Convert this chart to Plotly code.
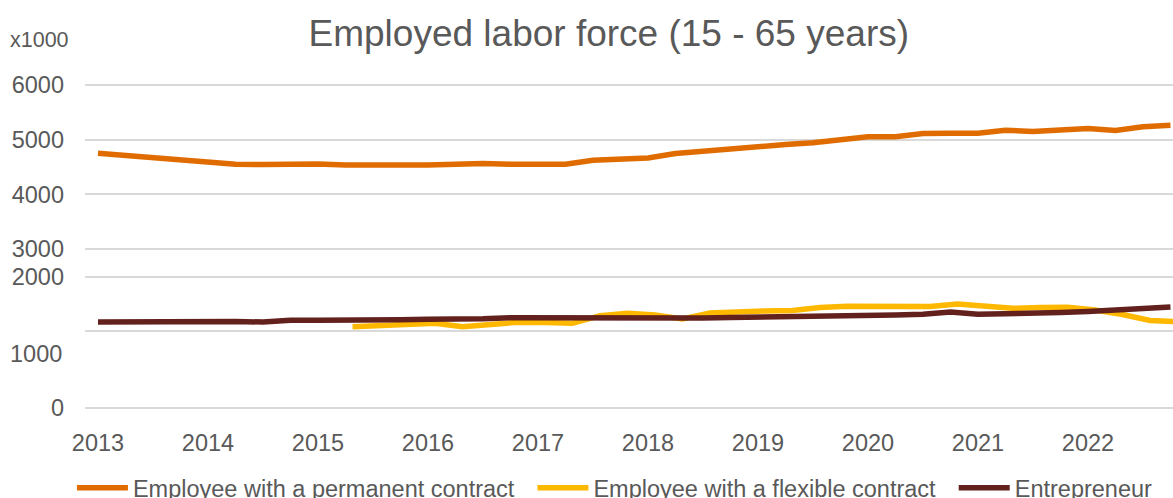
import plotly.graph_objects as go

# Quarterly periods 2013 Q1 .. 2022 Q4 (x = year + (quarter-1)/4)
years = list(range(2013, 2023))
quarters = [y + q / 4 for y in years for q in range(4)]

# values x1000
permanent = [4750, 4712, 4670, 4618, 4573, 4551, 4545, 4554, 4554, 4536,
             4530, 4530, 4536, 4551, 4565, 4551, 4545, 4551, 4622, 4642,
             4664, 4746, 4792, 4838, 4874, 4911, 4944, 4997, 5052, 5054,
             5112, 5116, 5116, 5172, 5149, 5176, 5204, 5167, 5235, 5264]

# flexible contract series starts in 2015 Q2
flexible_start = 9
flexible = [1578, 1600, 1619, 1641, 1578, 1619, 1659, 1655, 1641, 1780,
            1824, 1792, 1719, 1829, 1856, 1866, 1875, 1930, 1952, 1948,
            1939, 1948, 1994, 1957, 1915, 1930, 1933, 1884, 1802, 1692, 1670]

entrepreneur = [1664, 1670, 1679, 1686, 1683, 1674, 1664, 1695, 1695, 1692,
                1695, 1705, 1714, 1714, 1723, 1743, 1741, 1732, 1732, 1738,
                1741, 1734, 1738, 1747, 1752, 1756, 1759, 1781, 1787, 1792,
                1805, 1847, 1805, 1811, 1820, 1838, 1856, 1875, 1911, 1939]

# y-axis gridlines (value positions) and their labels (broken-axis style)
y_grid_vals = [91, 1500, 2493, 3000, 4000, 5000, 6000]
y_grid_text = ["0", "", "2000", "3000", "4000", "5000", "6000"]
extra_label_val = 1079
extra_label_text = "1000"

names = ["Employee with a permanent contract",
         "Employee with a flexible contract",
         "Entrepreneur"]
colors = ["#E06C00", "#FFB800", "#63211E"]

FONT = "Liberation Sans, Arial, sans-serif"
GREY = "#595959"
FS = 23.5
NBSP = "\u00a0"

x_range = [2012.882, 2022.773]
flex_offset = 0.064  # the flexible series sits slightly right in the source chart

fig = go.Figure()
fig.add_trace(go.Scatter(x=quarters, y=permanent, mode="lines",
                         name=names[0] + NBSP * 2,
                         line=dict(color=colors[0], width=5.5)))
fig.add_trace(go.Scatter(x=quarters[flexible_start:], y=flexible, mode="lines",
                         name=names[1] + NBSP * 2, xaxis="x2",
                         line=dict(color=colors[1], width=5.5)))
fig.add_trace(go.Scatter(x=quarters, y=entrepreneur, mode="lines", name=names[2],
                         xaxis="x3",
                         line=dict(color=colors[2], width=5.5)))

hidden_x = dict(overlaying="x", visible=False, showgrid=False,
                zeroline=False, automargin=False)

fig.update_layout(
    width=1173, height=498,
    margin=dict(l=85, r=0, t=71, b=85, autoexpand=False),
    paper_bgcolor="white", plot_bgcolor="white",
    font=dict(family=FONT, size=FS, color=GREY),
    title=dict(text="Employed labor force (15 - 65 years)",
               x=0.519, xanchor="center", y=0.934, yanchor="middle",
               font=dict(family=FONT, size=37, color=GREY)),
    showlegend=True,
    legend=dict(orientation="h", x=-0.012, xanchor="left",
                y=-0.219, yanchor="middle",
                font=dict(family=FONT, size=FS, color=GREY),
                itemwidth=51, tracegroupgap=0),
    xaxis=dict(range=x_range, tickvals=years,
               ticktext=[str(y) for y in years], showgrid=False,
               zeroline=False, showline=False, ticks="", automargin=False,
               ticklabelstandoff=13,
               tickfont=dict(family=FONT, size=FS, color=GREY)),
    xaxis2=dict(range=[x_range[0] - flex_offset, x_range[1] - flex_offset],
                **hidden_x),
    xaxis3=dict(range=x_range, **hidden_x),
    yaxis=dict(range=[0, 6255], tickvals=y_grid_vals, ticktext=y_grid_text,
               showgrid=True, gridcolor="#D9D9D9", gridwidth=1.5,
               zeroline=False, showline=False, ticks="", automargin=False,
               ticklabelstandoff=20,
               tickfont=dict(family=FONT, size=FS, color=GREY)),
)

fig.add_annotation(text=extra_label_text, xref="paper", yref="y",
                   x=(64 - 85) / 1088, y=extra_label_val,
                   xanchor="right", yanchor="middle", showarrow=False,
                   font=dict(family=FONT, size=FS, color=GREY))
fig.add_annotation(text="x1000", xref="paper", yref="paper",
                   x=(8 - 85) / 1088, y=(413 - 40) / 342,
                   xanchor="left", yanchor="middle", showarrow=False,
                   font=dict(family=FONT, size=21.5, color=GREY))

fig.write_html("out.html",
               config={"displayModeBar": False},
               post_script="document.body.style.margin='0';"
                           "document.body.style.overflow='hidden';")
